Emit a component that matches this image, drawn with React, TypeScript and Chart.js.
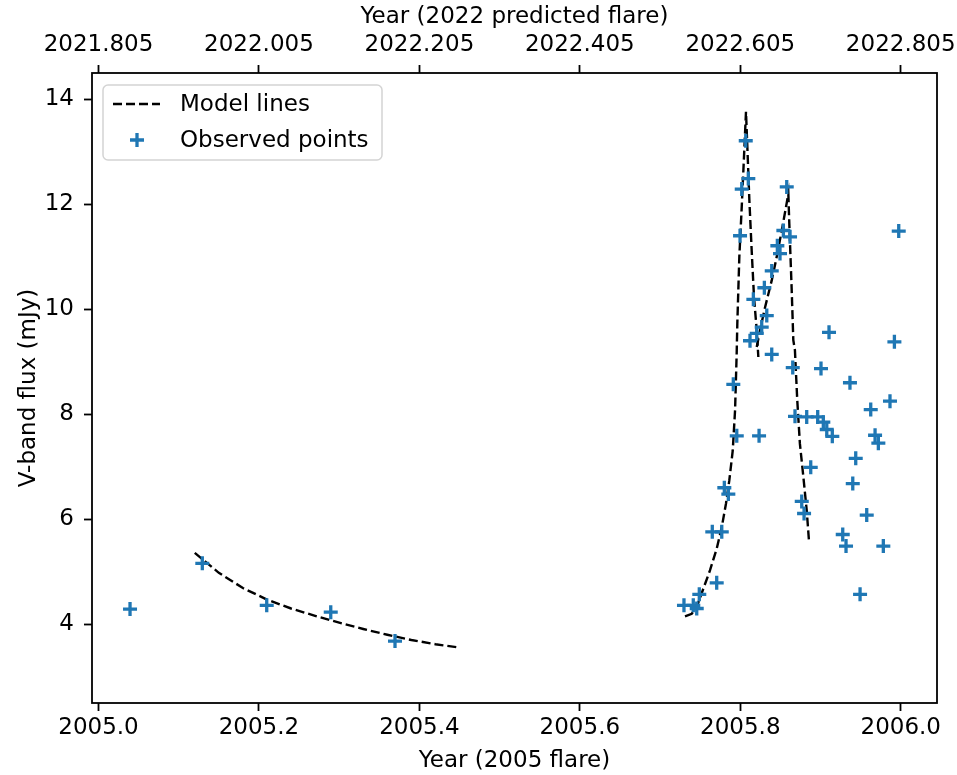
import React, { useEffect, useRef } from 'react';
import { Chart, registerables } from 'chart.js';

Chart.register(...registerables);

const FONT = "'DejaVu Sans', 'Liberation Sans', sans-serif";
const FS = 23;

// Axis ranges and ticks
const X_MIN = 2004.9919;
const X_MAX = 2006.0452;
const Y_MIN = 2.5;
const Y_MAX = 14.5;
const bottomTicks = [2005.0, 2005.2, 2005.4, 2005.6, 2005.8, 2006.0];
const bottomTickLabels = ['2005.0', '2005.2', '2005.4', '2005.6', '2005.8', '2006.0'];
const topTickLabels = ['2021.805', '2022.005', '2022.205', '2022.405', '2022.605', '2022.805'];
const yTicks = [4, 6, 8, 10, 12, 14];

// Observed points
const obsX = [
  2005.0393, 2005.1294, 2005.2097, 2005.2895, 2005.3696,
  2005.7298, 2005.7414, 2005.7457, 2005.7489, 2005.7651, 2005.7706, 2005.7769,
  2005.7801, 2005.7851, 2005.7913, 2005.7956, 2005.7997, 2005.8018, 2005.8068,
  2005.8100, 2005.8121, 2005.8163, 2005.8205, 2005.8234, 2005.8267, 2005.8300,
  2005.8330, 2005.8392, 2005.8392, 2005.8462, 2005.8495, 2005.8537, 2005.8579,
  2005.8620, 2005.8654, 2005.8682, 2005.8766, 2005.8795, 2005.8828, 2005.8878,
  2005.8965, 2005.9006, 2005.9035, 2005.9078, 2005.9106, 2005.9147, 2005.9277,
  2005.9318, 2005.9367, 2005.9402, 2005.9439, 2005.9493, 2005.9576, 2005.9626,
  2005.9680, 2005.9721, 2005.9783, 2005.9866, 2005.9921, 2005.9975,
];
const obsY = [
  4.29, 5.16, 4.36, 4.23, 3.68,
  4.36, 4.36, 4.30, 4.57, 5.76, 4.79, 5.76,
  6.60, 6.48, 8.57, 7.59, 11.40, 12.29, 13.21,
  12.49, 9.40, 10.19, 9.54, 7.59, 9.66, 10.41,
  9.88, 10.73, 9.14, 11.21, 11.06, 11.50, 12.33,
  11.38, 8.89, 7.96, 6.34, 6.11, 7.95, 6.99,
  7.95, 8.87, 7.85, 7.71, 9.56, 7.58, 5.71,
  5.49, 8.60, 6.68, 7.16, 4.57, 6.08, 8.09,
  7.60, 7.45, 5.49, 8.25, 9.38, 11.49,
];

// Model lines
const modelAX = [2005.120, 2005.150, 2005.180, 2005.210, 2005.240, 2005.270, 2005.300, 2005.330, 2005.360, 2005.390, 2005.420, 2005.448];
const modelAY = [5.36, 4.98, 4.69, 4.47, 4.30, 4.16, 4.03, 3.91, 3.80, 3.70, 3.62, 3.56];

const modelBX = [
  2005.7311, 2005.7395, 2005.7457, 2005.7540, 2005.7623, 2005.7706, 2005.7769, 2005.7822,
  2005.7863, 2005.7906, 2005.7935, 2005.7955, 2005.7963, 2005.7988, 2005.8018, 2005.8046,
  2005.8071, 2005.8088, 2005.8113, 2005.8142, 2005.8171, 2005.8205, 2005.8225,
];
const modelBY = [
  4.15, 4.20, 4.33, 4.68, 5.03, 5.44, 5.85, 6.30,
  6.74, 7.31, 8.08, 9.16, 9.73, 11.00, 11.95, 12.90,
  13.76, 13.09, 12.08, 11.12, 10.23, 9.60, 9.09,
];

const modelCX = [
  2005.8205, 2005.8246, 2005.8309, 2005.8392, 2005.8454, 2005.8517, 2005.8570, 2005.8599,
  2005.8611, 2005.8641, 2005.8661, 2005.8681, 2005.8710, 2005.8743, 2005.8786, 2005.8828, 2005.8857,
];
const modelCY = [
  9.28, 9.60, 10.04, 10.55, 11.00, 11.50, 11.95, 12.20,
  11.63, 10.36, 9.41, 9.22, 8.27, 7.44, 6.81, 6.17, 5.57,
];

const OBS_COLOR = '#1f77b4';
const DASH = [9, 4];

const toPts = (xs: number[], ys: number[]) => xs.map((x, i) => ({ x, y: ys[i] }));

const framePlugin = {
  id: 'frame',
  afterDatasetsDraw(chart: any) {
    const { ctx, chartArea: a } = chart;
    ctx.save();
    ctx.strokeStyle = '#000';
    ctx.lineWidth = 1.8;
    ctx.strokeRect(a.left, a.top, a.right - a.left, a.bottom - a.top);
    ctx.restore();
  },
};

const legendPlugin = {
  id: 'mplLegend',
  afterDraw(chart: any) {
    const { ctx, chartArea: a } = chart;
    const ds = chart.data.datasets;
    const x0 = a.left + 11;
    const y0 = a.top + 12;
    const w = 279;
    const h = 75;
    ctx.save();
    ctx.beginPath();
    if (ctx.roundRect) ctx.roundRect(x0, y0, w, h, 5);
    else ctx.rect(x0, y0, w, h);
    ctx.fillStyle = 'rgba(255,255,255,0.8)';
    ctx.fill();
    ctx.strokeStyle = '#d4d4d4';
    ctx.lineWidth = 1.5;
    ctx.stroke();

    const r1 = y0 + 19;
    const r2 = y0 + 55;
    // model line handle
    ctx.strokeStyle = ds[1].borderColor;
    ctx.lineWidth = ds[1].borderWidth;
    ctx.setLineDash(ds[1].borderDash);
    ctx.beginPath();
    ctx.moveTo(x0 + 10, r1);
    ctx.lineTo(x0 + 57, r1);
    ctx.stroke();
    ctx.setLineDash([]);
    // observed point handle
    const cx = x0 + 34;
    const rr = ds[0].pointRadius;
    ctx.strokeStyle = ds[0].borderColor;
    ctx.lineWidth = ds[0].borderWidth;
    ctx.beginPath();
    ctx.moveTo(cx - rr, r2);
    ctx.lineTo(cx + rr, r2);
    ctx.moveTo(cx, r2 - rr);
    ctx.lineTo(cx, r2 + rr);
    ctx.stroke();

    ctx.fillStyle = '#000';
    ctx.font = `${FS}px ${FONT}`;
    ctx.textBaseline = 'middle';
    ctx.textAlign = 'left';
    ctx.fillText(ds[1].label, x0 + 77, r1 + 1);
    ctx.fillText(ds[0].label, x0 + 77, r2 + 1);
    ctx.restore();
  },
};

export default function App() {
  const ref = useRef<HTMLCanvasElement | null>(null);

  useEffect(() => {
    if (!ref.current) return;
    const font = { family: FONT, size: FS };
    const grid = {
      drawOnChartArea: false,
      drawTicks: true,
      tickLength: 8,
      tickWidth: 1.8,
      tickColor: '#000',
    };
    const lineDs = (label: string, xs: number[], ys: number[]) => ({
      label,
      data: toPts(xs, ys),
      showLine: true,
      borderColor: '#000',
      backgroundColor: '#000',
      borderWidth: 2.4,
      borderDash: DASH,
      pointRadius: 0,
      pointHoverRadius: 0,
      fill: false,
      tension: 0,
      xAxisID: 'x',
      yAxisID: 'y',
    });
    const chart = new Chart(ref.current, {
      type: 'scatter',
      data: {
        datasets: [
          {
            label: 'Observed points',
            data: toPts(obsX, obsY),
            pointStyle: 'cross',
            pointRadius: 7,
            pointHoverRadius: 7,
            borderWidth: 3.3,
            borderColor: OBS_COLOR,
            backgroundColor: OBS_COLOR,
            xAxisID: 'x',
            yAxisID: 'y',
            order: 1,
          },
          { ...lineDs('Model lines', modelAX, modelAY), order: 2 },
          { ...lineDs('Model lines', modelBX, modelBY), order: 2 },
          { ...lineDs('Model lines', modelCX, modelCY), order: 2 },
        ] as any,
      },
      options: {
        animation: false,
        responsive: false,
        devicePixelRatio: 1,
        layout: { padding: { left: 0, top: 0, right: 20, bottom: 0 } },
        plugins: {
          legend: { display: false },
          tooltip: { enabled: false },
        },
        scales: {
          x: {
            type: 'linear',
            position: 'bottom',
            min: X_MIN,
            max: X_MAX,
            afterBuildTicks: (s: any) => {
              s.ticks = bottomTicks.map((v) => ({ value: v }));
            },
            afterFit: (s: any) => {
              s.height = 72;
              s.paddingLeft = 0;
              s.paddingRight = 0;
            },
            ticks: {
              autoSkip: false,
              maxRotation: 0,
              padding: 3,
              color: '#000',
              font,
              callback: (_v: any, i: number) => bottomTickLabels[i],
            },
            grid,
            border: { display: false },
            title: {
              display: true,
              text: 'Year (2005 flare)',
              color: '#000',
              font,
              padding: { top: 0, bottom: 0 },
            },
          },
          x2: {
            type: 'linear',
            position: 'top',
            min: X_MIN,
            max: X_MAX,
            afterBuildTicks: (s: any) => {
              s.ticks = bottomTicks.map((v) => ({ value: v }));
            },
            afterFit: (s: any) => {
              s.height = 73;
              s.paddingLeft = 0;
              s.paddingRight = 0;
            },
            ticks: {
              autoSkip: false,
              maxRotation: 0,
              padding: 6,
              color: '#000',
              font,
              callback: (_v: any, i: number) => topTickLabels[i],
            },
            grid,
            border: { display: false },
            title: {
              display: true,
              text: 'Year (2022 predicted flare)',
              color: '#000',
              font,
              padding: { top: 3, bottom: 0 },
            },
          },
          y: {
            type: 'linear',
            position: 'left',
            min: Y_MIN,
            max: Y_MAX,
            afterBuildTicks: (s: any) => {
              s.ticks = yTicks.map((v) => ({ value: v }));
            },
            afterFit: (s: any) => {
              s.width = 92;
              s.paddingTop = 0;
              s.paddingBottom = 0;
            },
            ticks: {
              padding: 10,
              color: '#000',
              font,
              callback: (v: any) => String(v),
            },
            grid,
            border: { display: false },
            title: {
              display: true,
              text: 'V-band flux (mJy)',
              color: '#000',
              font,
              padding: { top: 15, bottom: 0 },
            },
          },
        },
      } as any,
      plugins: [framePlugin, legendPlugin],
    });
    return () => chart.destroy();
  }, []);

  return (
    <div style={{ position: 'absolute', left: 0, top: 0, width: 957, height: 775, background: '#fff' }}>
      <canvas ref={ref} width={957} height={775} style={{ width: 957, height: 775, display: 'block' }} />
    </div>
  );
}
